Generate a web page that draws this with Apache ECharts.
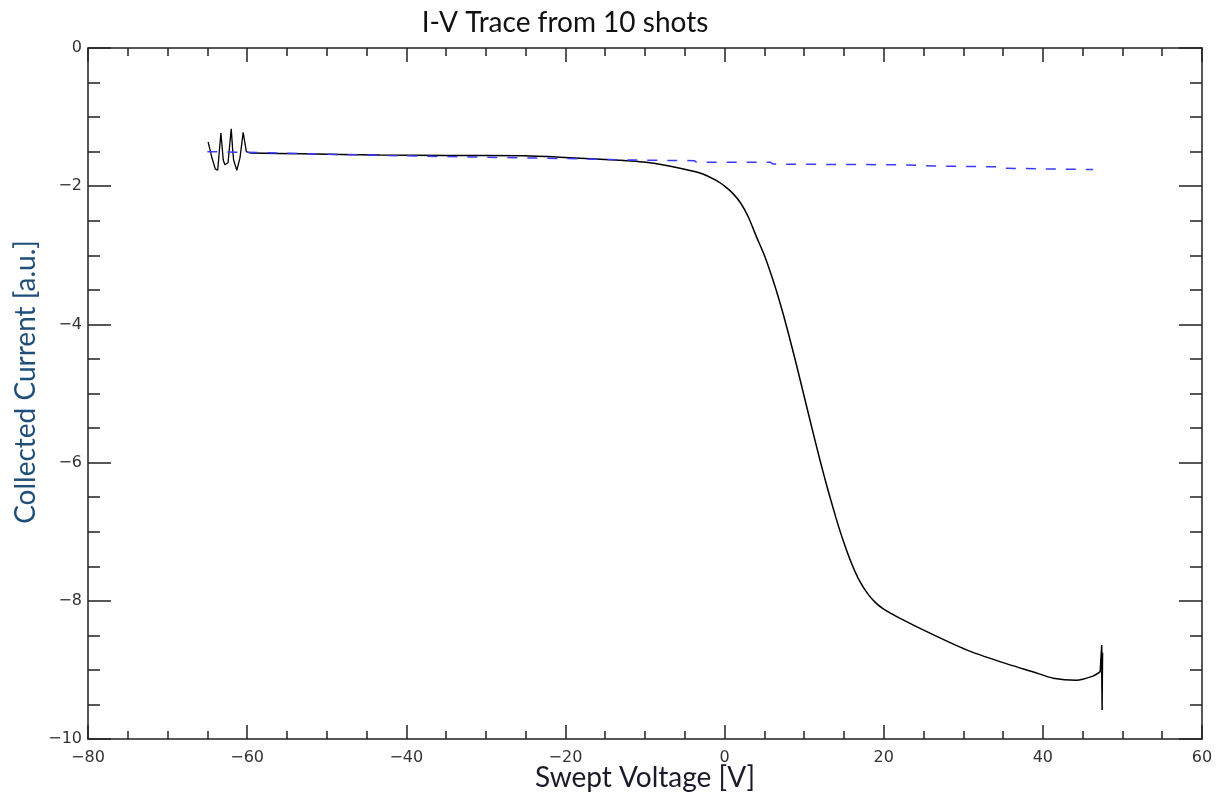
<!DOCTYPE html>
<html>
<head>
<meta charset="utf-8">
<script src="https://cdn.jsdelivr.net/npm/echarts@6/dist/echarts.min.js"></script>
<style>
html,body{margin:0;padding:0;background:#fff;}
#chart{width:1221px;height:796px;}
</style>
</head>
<body>
<div id="chart"></div>
<script>
// Data
const titleText = 'I-V Trace from 10 shots';
const xAxisName = 'Swept Voltage [V]';
const yAxisName = 'Collected Current [a.u.]';

// noisy start of the black trace
const noiseTrace = [
  [-64.9,-1.36],[-64.4,-1.6],[-64.0,-1.75],[-63.7,-1.77],[-63.3,-1.23],[-63.0,-1.62],
  [-62.8,-1.69],[-62.4,-1.66],[-62.0,-1.17],[-61.8,-1.5],[-61.7,-1.62],[-61.3,-1.77],
  [-60.9,-1.59],[-60.5,-1.22],[-60.1,-1.5],[-59.6,-1.52]
];
// main black trace
const mainTrace = [
  [-59.6,-1.52],[-53,-1.53],[-43.3,-1.55],[-35,-1.555],[-25.1,-1.56],[-20.7,-1.58],
  [-15.6,-1.61],[-13.1,-1.625],[-9.4,-1.66],[-5.6,-1.74],[-3.1,-1.81],[-1,-1.92],
  [0,-2.0],[1,-2.1],[2,-2.24],[3,-2.45],[4,-2.73],[5,-3.0],[6,-3.33],[7,-3.7],
  [8,-4.12],[9,-4.57],[10,-5.04],[11,-5.51],[12,-5.97],[13,-6.4],[14,-6.8],
  [15,-7.16],[16,-7.47],[17,-7.72],[18,-7.9],[19,-8.03],[20,-8.12],[22,-8.25],
  [26.2,-8.49],[30.4,-8.71],[34.6,-8.88],[38.8,-9.03],[41.3,-9.12],[44.2,-9.15],
  [46.3,-9.09],[47.2,-9.03]
];
// vertical spike at the end of the sweep
const endSpike = [
  [47.2,-9.03],[47.4,-8.64],[47.45,-9.58],[47.4,-8.75],[47.45,-9.49],[47.5,-8.75],
  [47.45,-9.49],[47.4,-9.03]
];
// blue dashed fit
const fitTrace = [
  [-65,-1.5],[-60,-1.51],[-43,-1.555],[-20,-1.6],[-10,-1.625],[-3.8,-1.63],[-3.5,-1.655],
  [5.8,-1.655],[6.1,-1.68],[22,-1.69],[27,-1.71],[34.6,-1.72],[35,-1.74],[46.3,-1.76]
];

const xMin = -80, xMax = 60, xStep = 20;
const yMin = -10, yMax = 0, yStep = 2;

const chart = echarts.init(document.getElementById('chart'));
const minus = v => String(v).replace('-', '\u2212');
const axisColor = '#222';
const labelFont = { fontFamily: 'DejaVu Sans', fontSize: 16, color: '#333' };

function xAx(pos, show) {
  return {
    type: 'value', position: pos, min: xMin, max: xMax, interval: xStep,
    axisLine: { show: true, onZero: false, lineStyle: { color: axisColor, width: 1.5 } },
    axisTick: { show: true, inside: true, length: 14, lineStyle: { color: axisColor, width: 1.5 } },
    minorTick: { show: true, splitNumber: 4, length: 8, lineStyle: { color: axisColor, width: 1.5 } },
    axisLabel: Object.assign({ show: show, margin: 11, formatter: minus }, labelFont),
    splitLine: { show: false }
  };
}
function yAx(pos, show) {
  return {
    type: 'value', position: pos, min: yMin, max: yMax, interval: yStep,
    axisLine: { show: true, onZero: false, lineStyle: { color: axisColor, width: 1.5 } },
    axisTick: { show: true, inside: true, length: 23, lineStyle: { color: axisColor, width: 1.5 } },
    minorTick: { show: true, splitNumber: 4, length: 12, lineStyle: { color: axisColor, width: 1.5 } },
    axisLabel: Object.assign({ show: show, margin: 6, formatter: minus }, labelFont),
    splitLine: { show: false }
  };
}

chart.setOption({
  animation: false,
  backgroundColor: '#fff',
  grid: { left: 88, right: 19, top: 48, bottom: 57, containLabel: false },
  xAxis: [xAx('bottom', true), xAx('top', false)],
  yAxis: [yAx('left', true), yAx('right', false)],
  graphic: [
    { type: 'text', x: 565, y: 23, style: { text: titleText, font: '28px Lato', fill: '#111', textAlign: 'center', textVerticalAlign: 'middle' } },
    { type: 'text', x: 645, y: 778, style: { text: xAxisName, font: '28px Lato', fill: '#1a1a2a', textAlign: 'center', textVerticalAlign: 'middle' } },
    { type: 'text', x: 26, y: 382, rotation: Math.PI / 2, style: { text: yAxisName, font: '28px Lato', fill: '#1f4e79', textAlign: 'center', textVerticalAlign: 'middle' } }
  ],
  series: [
    { type: 'line', data: noiseTrace, showSymbol: false, lineStyle: { color: '#000', width: 1.3 }, z: 2 },
    { type: 'line', data: mainTrace, showSymbol: false, smooth: 0.2, lineStyle: { color: '#000', width: 1.5 }, z: 2 },
    { type: 'line', data: endSpike, showSymbol: false, lineStyle: { color: '#000', width: 1.5 }, z: 2 },
    { type: 'line', data: fitTrace, showSymbol: false, lineStyle: { color: '#3a3aff', width: 1.5, type: [10, 10] }, z: 3 }
  ]
});
</script>
</body>
</html>
